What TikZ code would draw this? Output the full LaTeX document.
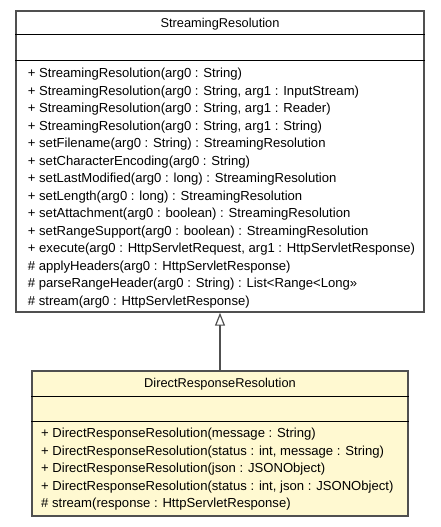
\documentclass[tikz,border=0pt]{standalone}
\usepackage{fontspec}
\setmainfont{Liberation Sans}
\usetikzlibrary{positioning, arrows.meta}
\definecolor{classyellow}{HTML}{FFF9D1}
\definecolor{edgegray}{HTML}{505050}

\begin{document}
\begin{tikzpicture}[x=1pt, y=-1pt,
    box/.style={draw=edgegray, line width=1.4pt, inner sep=0pt},
    sep/.style={draw=black, line width=1.2pt},
    classname/.style={font=\fontsize{12.8}{15}\selectfont, anchor=base, inner sep=0pt},
    ops/.style={font=\fontsize{13.1}{17.5}\selectfont, align=left, anchor=north west, inner sep=0pt}]
  \useasboundingbox (0,0) rectangle (440,527);

  % superclass
  \node[box, minimum width=408pt, minimum height=301pt] (streaming) at (220,161.5) {};
  \draw[sep] ([yshift=-24.5pt]streaming.north west) -- ([yshift=-24.5pt]streaming.north east);
  \draw[sep] ([yshift=-50pt]streaming.north west) -- ([yshift=-50pt]streaming.north east);
  \node[classname] (streamingName) at (220,27.3) {StreamingResolution};
  \node[ops] (streamingOps) at (27.7,68) {%
    + StreamingResolution(arg0 : String)\\
    + StreamingResolution(arg0 : String, arg1 : InputStream)\\
    + StreamingResolution(arg0 : String, arg1 : Reader)\\
    + StreamingResolution(arg0 : String, arg1 : String)\\
    + setFilename(arg0 : String) : StreamingResolution\\
    + setCharacterEncoding(arg0 : String)\\
    + setLastModified(arg0 : long) : StreamingResolution\\
    + setLength(arg0 : long) : StreamingResolution\\
    + setAttachment(arg0 : boolean) : StreamingResolution\\
    + setRangeSupport(arg0 : boolean) : StreamingResolution\\
    + execute(arg0 : HttpServletRequest, arg1 : HttpServletResponse)\\
    \# applyHeaders(arg0 : HttpServletResponse)\\
    \# parseRangeHeader(arg0 : String) : List<Range<Long>>\\
    \# stream(arg0 : HttpServletResponse)};

  % subclass
  \node[box, fill=classyellow, minimum width=376pt, minimum height=145pt] (direct) at (220,443.5) {};
  \draw[sep] ([yshift=-26pt]direct.north west) -- ([yshift=-26pt]direct.north east);
  \draw[sep] ([yshift=-51pt]direct.north west) -- ([yshift=-51pt]direct.north east);
  \node[classname] (directName) at (220,387.3) {DirectResponseResolution};
  \node[ops] (directOps) at (41,428.3) {%
    + DirectResponseResolution(message : String)\\
    + DirectResponseResolution(status : int, message : String)\\
    + DirectResponseResolution(json : JSONObject)\\
    + DirectResponseResolution(status : int, json : JSONObject)\\
    \# stream(response : HttpServletResponse)};

  \draw[edgegray, line width=1.4pt, -{Triangle[open, length=13pt, width=10pt, line width=1.2pt]}]
    (direct.north) -- (streaming.south);
\end{tikzpicture}
\end{document}
